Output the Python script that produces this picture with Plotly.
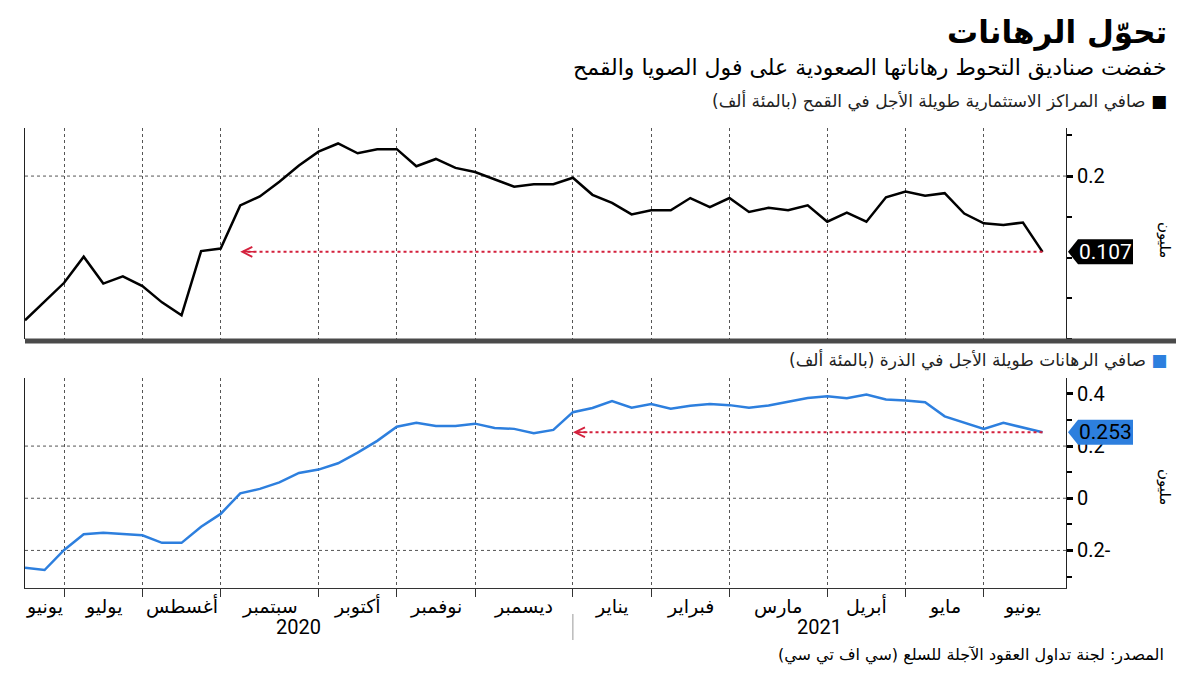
import pandas as pd
import plotly.graph_objects as go

# ---------------- data ----------------
start_date = "2020-06-23"          # weekly CFTC observations
n_weeks = 53
dates = list(pd.date_range(start_date, periods=n_weeks, freq="7D"))

wheat = [0.023, 0.046, 0.069, 0.101, 0.068, 0.077, 0.065, 0.045, 0.029, 0.108,
         0.111, 0.164, 0.175, 0.193, 0.213, 0.230, 0.240, 0.228, 0.233, 0.233,
         0.212, 0.221, 0.210, 0.205, 0.196, 0.187, 0.190, 0.190, 0.198, 0.177,
         0.167, 0.153, 0.158, 0.158, 0.173, 0.162, 0.173, 0.156, 0.161, 0.158,
         0.164, 0.144, 0.155, 0.144, 0.174, 0.181, 0.176, 0.179, 0.154, 0.142,
         0.140, 0.143, 0.107]

corn = [-0.266, -0.275, -0.198, -0.138, -0.132, -0.136, -0.142, -0.171, -0.171, -0.109,
        -0.060, 0.019, 0.036, 0.061, 0.097, 0.110, 0.134, 0.175, 0.220, 0.274,
        0.289, 0.277, 0.277, 0.286, 0.269, 0.266, 0.249, 0.262, 0.330, 0.346,
        0.373, 0.347, 0.361, 0.343, 0.355, 0.361, 0.357, 0.347, 0.356, 0.370,
        0.384, 0.391, 0.383, 0.398, 0.379, 0.375, 0.368, 0.314, 0.289, 0.266,
        0.289, 0.272, 0.253]

month_labels = ["يونيو", "يوليو", "أغسطس", "سبتمبر", "أكتوبر", "نوفمبر", "ديسمبر",
                "يناير", "فبراير", "مارس", "أبريل", "مايو", "يونيو"]
year_labels = ["2020", "2021"]

wheat_arrow_idx = 11
corn_arrow_idx = 28

wheat_ticks = [0.2]
wheat_ticktext = ["0.2"]
wheat_grid = [0.2]
corn_ticks = [-0.2, 0, 0.2, 0.4]
corn_ticktext = ["0.2-", "0", "0.2", "0.4"]
corn_grid = [-0.2, 0, 0.2]

title = "تحوّل الرهانات"
subtitle = "خفضت صناديق التحوط رهاناتها الصعودية على فول الصويا والقمح"
legend_wheat = "صافي المراكز الاستثمارية طويلة الأجل في القمح (بالمئة ألف)"
legend_corn = "صافي الرهانات طويلة الأجل في الذرة (بالمئة ألف)"
axis_title = "مليون"
source = "المصدر: لجنة تداول العقود الآجلة للسلع (سي اف تي سي)"

# ---------------- styling / layout constants ----------------
OFF = 8                      # page body margin
W, H = 1200 - OFF, 675 - OFF
PL, PR = 25, 1066            # plot left/right edges in page pixels
ML = PL - OFF
MR = W - (PR - OFF)
PW = W - ML - MR
AR = "DejaVu Sans"
NUM = "Roboto"
BLACK = "#000000"
BLUE = "#2d7fde"
RED = "#d4213d"
GRID = "#555555"
RLM = "\u200f"

def px_x(px):
    return (px - OFF - ML) / PW

def px_y(py):
    return 1 - (py - OFF) / H

top_dom = [px_y(339), px_y(128)]
bot_dom = [px_y(588), px_y(378)]
wheat_range = [0.0, 0.259]
corn_range = [-0.344, 0.461]

week = pd.Timedelta(days=7)
x_end = dates[0] + week * 53.2
x_range = [dates[0], x_end]

# first observation of each month -> gridlines / ticks
month_starts = [i for i in range(len(dates)) if i == 0 or dates[i].month != dates[i - 1].month]
grid_dates = [dates[i] for i in month_starts[1:]]

fig = go.Figure()

fig.add_trace(go.Scatter(x=dates, y=wheat, mode="lines", line=dict(color=BLACK, width=2.5),
                         xaxis="x", yaxis="y", showlegend=False, hoverinfo="skip"))
fig.add_trace(go.Scatter(x=dates, y=corn, mode="lines", line=dict(color=BLUE, width=2.5),
                         xaxis="x2", yaxis="y2", showlegend=False, hoverinfo="skip"))

# dotted red arrows back to earlier level
for series, idx, xa, ya in [(wheat, wheat_arrow_idx, "x", "y"), (corn, corn_arrow_idx, "x2", "y2")]:
    v = series[-1]
    fig.add_trace(go.Scatter(x=[dates[-1], dates[idx] + pd.Timedelta(days=1)], y=[v, v], mode="lines",
                             line=dict(color=RED, width=2, dash="dot"),
                             xaxis=xa, yaxis=ya, showlegend=False, hoverinfo="skip"))
    fig.add_annotation(x=dates[idx], y=v, xref=xa, yref=ya, ax=16, ay=0, text="",
                       showarrow=True, arrowhead=5, arrowsize=1.3, arrowwidth=1.5,
                       arrowcolor=RED, standoff=0, startstandoff=0)

axis_common = dict(range=x_range, showticklabels=False, tickmode="array", tickvals=grid_dates,
                   showgrid=True, gridcolor=GRID, griddash="dot", gridwidth=1, zeroline=False)

fig.update_layout(
    width=W, height=H,
    margin=dict(l=ML, r=MR, t=0, b=0),
    paper_bgcolor="white", plot_bgcolor="white",
    font=dict(family=AR, color=BLACK),
    xaxis=dict(**axis_common, domain=[0, 1], anchor="y", showline=False, ticks=""),
    xaxis2=dict(**axis_common, domain=[0, 1], anchor="y2", showline=True, linecolor="#333333",
                linewidth=1, ticks="outside", ticklen=8, tickcolor="#333333", tickwidth=1),
    yaxis=dict(domain=top_dom, range=wheat_range, side="right", anchor="x",
               tickvals=wheat_ticks, ticktext=wheat_ticktext, showgrid=False, zeroline=False,
               showline=True, linecolor="#222222", linewidth=1.2, mirror=True,
               ticks="outside", ticklen=6, tickwidth=2.5, tickcolor=BLACK,
               minor=dict(tickvals=[0, 0.05, 0.1, 0.15, 0.25], ticks="outside", ticklen=5,
                          tickwidth=1.5, tickcolor=BLACK, showgrid=False),
               tickfont=dict(family=NUM, size=20, color=BLACK)),
    yaxis2=dict(domain=bot_dom, range=corn_range, side="right", anchor="x2",
                tickvals=corn_ticks, ticktext=corn_ticktext, showgrid=False, zeroline=False,
                showline=True, linecolor="#222222", linewidth=1.2, mirror=True,
                ticks="outside", ticklen=6, tickwidth=2.5, tickcolor=BLACK,
                minor=dict(tickvals=[-0.3, -0.1, 0.1, 0.3], ticks="outside", ticklen=5,
                           tickwidth=1.5, tickcolor=BLACK, showgrid=False),
                tickfont=dict(family=NUM, size=20, color=BLACK)),
)

# horizontal dotted gridlines
for g in wheat_grid:
    fig.add_shape(type="line", xref="paper", yref="y", x0=0, x1=1, y0=g, y1=g,
                  line=dict(color=GRID, width=1, dash="dot"), layer="below")
for g in corn_grid:
    fig.add_shape(type="line", xref="paper", yref="y2", x0=0, x1=1, y0=g, y1=g,
                  line=dict(color=GRID, width=1, dash="dot"), layer="below")

# thick separator under the top panel
fig.add_shape(type="line", xref="paper", yref="paper", x0=0, x1=px_x(1176),
              y0=px_y(341), y1=px_y(341), line=dict(color="#4a4a4a", width=5))

# value tags at the right axis
def add_tag(value, yref, rng, dom, fill, txt_color):
    span = rng[1] - rng[0]
    dom_px = (dom[1] - dom[0]) * H
    dy = 12.5 * span / dom_px
    x_tip, x_base, x_right = px_x(1068), px_x(1078), px_x(1133)
    path = (f"M {x_tip},{value} L {x_base},{value + dy} L {x_right},{value + dy} "
            f"L {x_right},{value - dy} L {x_base},{value - dy} Z")
    fig.add_shape(type="path", xref="paper", yref=yref, path=path,
                  fillcolor=fill, line=dict(width=0))
    fig.add_annotation(x=px_x(1105), y=value, xref="paper", yref=yref, text=f"{value:.3f}",
                       showarrow=False, font=dict(family=NUM, size=21, color=txt_color),
                       xanchor="center", yanchor="middle")

add_tag(wheat[-1], "y", wheat_range, top_dom, BLACK, "white")
add_tag(corn[-1], "y2", corn_range, bot_dom, BLUE, BLACK)

# month labels centred between month boundaries
bounds = month_starts + [53.0]
for k, lab in enumerate(month_labels):
    mid = (bounds[k] + bounds[k + 1]) / 2
    fig.add_annotation(x=dates[0] + week * mid, y=px_y(606), xref="x2", yref="paper",
                       text=lab, showarrow=False, font=dict(size=19, color=BLACK),
                       xanchor="center", yanchor="middle")

jan_idx = [i for i in month_starts if dates[i].month == 1][0]
year_pos = [jan_idx / 2, (jan_idx + 53.2) / 2]
for lab, pos in zip(year_labels, year_pos):
    fig.add_annotation(x=dates[0] + week * pos, y=px_y(627), xref="x2", yref="paper",
                       text=lab, showarrow=False, font=dict(family=NUM, size=20, color=BLACK),
                       xanchor="center", yanchor="middle")
fig.add_shape(type="line", xref="x2", yref="paper", x0=dates[jan_idx], x1=dates[jan_idx],
              y0=px_y(614), y1=px_y(640), line=dict(color="#999999", width=1))

# titles, legends, source
fig.add_annotation(x=px_x(1169), y=px_y(32), xref="paper", yref="paper", text=f"<b>{title}</b>",
                   showarrow=False, xanchor="right", yanchor="middle", font=dict(size=31, color=BLACK))
fig.add_annotation(x=px_x(1169), y=px_y(68), xref="paper", yref="paper", text=subtitle,
                   showarrow=False, xanchor="right", yanchor="middle", font=dict(size=22, color=BLACK))
fig.add_annotation(x=px_x(1169), y=px_y(101), xref="paper", yref="paper",
                   text=f"{RLM}{legend_wheat}{RLM} <span style='color:{BLACK}'>■</span>",
                   showarrow=False, xanchor="right", yanchor="middle", font=dict(size=17, color="#222222"))
fig.add_annotation(x=px_x(1169), y=px_y(360), xref="paper", yref="paper",
                   text=f"{RLM}{legend_corn}{RLM} <span style='color:{BLUE}'>■</span>",
                   showarrow=False, xanchor="right", yanchor="middle", font=dict(size=17, color="#222222"))
for yc in [240, 487]:
    fig.add_annotation(x=px_x(1165), y=px_y(yc), xref="paper", yref="paper", text=axis_title,
                       showarrow=False, textangle=90, xanchor="center", yanchor="middle",
                       font=dict(size=15, color=BLACK))
fig.add_annotation(x=px_x(1166), y=px_y(655), xref="paper", yref="paper", text=f"{RLM}{source}{RLM}",
                   showarrow=False, xanchor="right", yanchor="middle", font=dict(size=16, color=BLACK))

fig.write_html("out.html")
